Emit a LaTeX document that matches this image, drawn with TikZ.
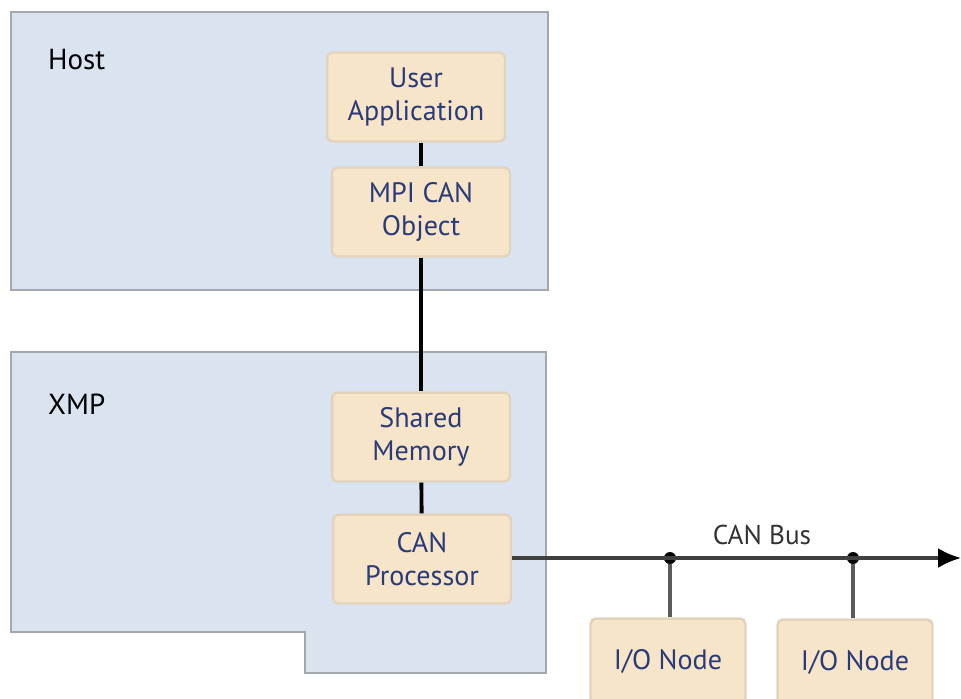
\documentclass[tikz,border=0pt]{standalone}
\usepackage{fontspec}
\setmainfont{PT Sans}
\usetikzlibrary{arrows.meta,positioning,calc}
\definecolor{panelfill}{HTML}{D9E4F0}
\definecolor{paneledge}{HTML}{A3A8AD}
\definecolor{boxfill}{HTML}{F6E5C9}
\definecolor{boxedge}{HTML}{E3D3BC}
\definecolor{boxtext}{HTML}{2A3B78}
\definecolor{busgray}{HTML}{5A5A5A}

\begin{document}
\begin{tikzpicture}[
  x=0.02cm, y=-0.02cm,
  panel/.style={draw=paneledge, fill=panelfill, line width=1.2pt},
  block/.style={
    draw=boxedge, fill=boxfill, rounded corners=3pt, line width=1.4pt,
    minimum width=3.56cm, minimum height=1.78cm, align=center, inner sep=2pt,
    text=boxtext, font=\fontsize{16}{18.5}\selectfont
  },
  iobox/.style={block, minimum width=3.1cm, minimum height=1.7cm},
  title/.style={anchor=west, font=\fontsize{16.5}{18}\selectfont},
  link/.style={line width=2.2pt, color=black},
  bus/.style={line width=1.8pt, color=busgray},
  tap/.style={circle, fill=black, inner sep=0pt, minimum size=0.24cm}
]
  \useasboundingbox (0,0) rectangle (961,698);
  % panels
  \draw[panel] (11,12) rectangle (548,290);
  \draw[panel] (11,352) -- (546,352) -- (546,673) -- (305,673) -- (305,632)
    -- (11,632) -- cycle;
  \node[title] (host) at (42,60) {Host};
  \node[title] (xmp) at (42,404) {XMP};
  % blocks
  \node[block] (app) at (416,97) {User\\Application};
  \node[block] (mpi) at (421,212) {MPI CAN\\Object};
  \node[block] (shm) at (421,437) {Shared\\Memory};
  \node[block] (canp) at (422,559) {CAN\\Processor};
  \node[iobox] (io1) at (668,661) {I/O Node};
  \node[iobox] (io2) at (855,662) {I/O Node};
  % bus
  \coordinate (busend) at (961,558);
  \node[tap] (tap1) at (670,558) {};
  \node[tap] (tap2) at (853,558) {};
  \node[text=black!80, font=\fontsize{15.5}{17}\selectfont] (buslabel) at (762,535) {CAN Bus};
  \draw[link] (app) -- (app.south -| mpi) ;
  \draw[link] (mpi.north) -- (mpi.north |- app.south);
  \draw[link] (mpi) -- (shm);
  \draw[link] (shm) -- (canp);
  \draw[bus, draw=black!75, -{Latex[length=4.6mm, width=4mm, black]}]
    (canp.east |- busend) -- (busend);
  \draw[bus] (tap1) -- (tap1 |- io1.north);
  \draw[bus] (tap2) -- (tap2 |- io2.north);
\end{tikzpicture}
\end{document}
